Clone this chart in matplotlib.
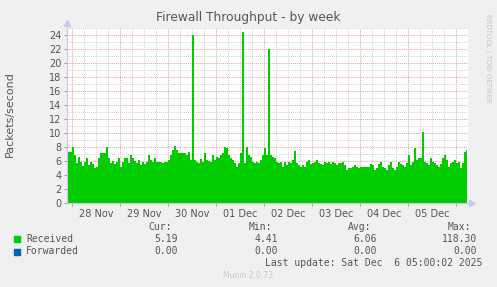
import numpy as np
import matplotlib
matplotlib.use("Agg")
import matplotlib.pyplot as plt

# Chart data
TITLE = "Firewall Throughput - by week"
Y_LABEL = "Packets/second"
DAY_LABELS = ["28 Nov", "29 Nov", "30 Nov", "01 Dec", "02 Dec", "03 Dec", "04 Dec", "05 Dec"]

# hourly samples, first one at 27 Nov 21:30 (hours relative to 28 Nov 00:00)
FIRST_HOUR = -2.5
received = [
    8.0, 7.3, 7.3, 8.0, 6.9, 5.7, 6.6, 5.8, 5.3, 5.9, 6.4, 5.4, 5.8, 5.5, 5.0, 5.2, 6.4, 7.2, 7.2, 7.1,
    8.0, 6.4, 5.7, 6.0, 5.5, 5.8, 6.4, 5.2, 5.9, 6.4, 6.4, 5.7, 6.9, 6.4, 6.0, 5.7, 6.1, 5.4, 5.9, 5.6,
    5.8, 6.9, 6.1, 5.9, 6.4, 5.9, 5.8, 5.9, 5.7, 5.8,
    5.8,
    6.1, 6.9, 7.6, 8.2, 7.6, 7.2, 7.1, 7.1, 7.2, 6.9, 7.3, 6.2, 24.0, 6.1, 5.9, 5.7, 6.3, 5.9, 7.1, 6.1,
    6.0, 5.9, 6.9, 6.1, 6.6, 6.4, 6.9, 7.1, 8.0, 7.8, 6.9, 6.4, 6.1, 5.7, 5.2, 5.7, 7.2, 24.5, 5.7, 8.0,
    6.9, 6.6, 5.9, 5.7, 5.9, 5.7, 6.2, 6.9, 7.8,
    6.8, 22.0, 6.9, 6.6, 6.4, 5.9, 5.7, 5.9, 5.2, 5.8, 5.4, 5.9, 5.7, 6.1, 7.5, 5.7, 5.4, 5.1, 5.4, 5.2,
    5.9, 6.1, 5.5, 5.7, 5.9, 6.1, 5.7, 5.6, 5.4, 5.9, 5.7, 5.9, 5.6, 5.8, 5.7, 5.4, 5.7, 5.7, 5.9, 5.4,
    4.7, 5.0, 5.0, 5.1, 5.4, 5.2, 5.0, 5.1, 5.1, 5.1,
    5.1, 5.2, 5.5, 5.4, 4.7, 5.0, 5.6, 5.8, 5.2, 5.0, 4.7, 5.4, 5.9, 5.0, 4.7, 5.2, 5.9, 5.5, 5.4, 5.2,
    5.7, 6.9, 5.4, 5.9, 7.8, 6.1, 6.4, 6.4, 10.2, 5.9, 5.7, 5.4, 6.4, 5.9, 5.7, 5.4, 5.2, 5.6, 6.4, 6.9,
    6.1, 5.2, 5.7, 5.9, 6.1, 5.7, 5.9, 5.0, 5.7, 7.3, 7.6,
]
forwarded = [0.0] * len(received)

LEGEND_NAMES = ["Received", "Forwarded"]
CUR = ["5.19", "0.00"]
MIN = ["4.41", "0.00"]
AVG = ["6.06", "0.00"]
MAX = ["118.30", "0.00"]
LAST_UPDATE = "Last update: Sat Dec  6 05:00:02 2025"

GREEN = "#00cc00"
BLUE = "#0066b3"
BG = "#f0f0f0"
TXT = "#555555"
AXIS = "#c8c8ee"


def main():
    hours = FIRST_HOUR + np.arange(len(received))

    W, H = 497, 287
    fig = plt.figure(figsize=(W / 100, H / 100), dpi=100, facecolor=BG)
    ax = fig.add_axes([67 / W, 1 - 203 / H, (468 - 67) / W, (203 - 28) / H])
    ax.set_facecolor("white")

    x0, x1 = -2.5, 198
    ax.set_xlim(x0, x1)
    ax.set_ylim(0, 25)

    # grid, drawn by hand to get rrdtool's two colours
    for h in np.arange(-0, x1, 6):
        major = h % 24 == 0
        ax.axvline(h, color="#e3a3a3" if major else "#d2d2d2", lw=0.7,
                   linestyle=(0, (1, 1)), zorder=1)
    for v in range(1, 26):
        major = v % 2 == 0
        ax.axhline(v, color="#e3a3a3" if major else "#d2d2d2", lw=0.7,
                   linestyle=(0, (1, 1)), zorder=1)

    ax.fill_between(hours, received, step="mid", color=GREEN, lw=0, zorder=2)
    ax.step(hours, forwarded, where="mid", color=BLUE, lw=0.6, zorder=2)

    for s in ["top", "right"]:
        ax.spines[s].set_visible(False)
    for s in ["left", "bottom"]:
        ax.spines[s].set_color(AXIS)
        ax.spines[s].set_linewidth(0.8)
        ax.spines[s].set_zorder(3)

    # arrow heads at the axis ends
    ax.plot([0], [1.03], marker="^", ms=4, color=AXIS, transform=ax.transAxes, clip_on=False)
    ax.plot([1.01], [0], marker=">", ms=4, color=AXIS, transform=ax.transAxes, clip_on=False)

    ax.set_yticks(range(0, 25, 2))
    ax.set_yticks(range(1, 25, 2), minor=True)
    ax.tick_params(axis="y", which="major", length=2, width=0.7, color="#999999",
                   labelsize=7, labelcolor=TXT, pad=2)
    ax.tick_params(axis="y", which="minor", length=0)

    midnights = np.arange(0, x1, 24)
    noons = 12 + 24 * np.arange(len(DAY_LABELS))
    ax.set_xticks(midnights, [""] * len(midnights))
    ax.set_xticks(noons, DAY_LABELS, minor=True)
    ax.tick_params(axis="x", which="major", length=2, width=0.7, color="#e08080")
    ax.tick_params(axis="x", which="minor", length=0, labelsize=7, labelcolor=TXT, pad=4)

    fig.text(248 / W, 1 - 18 / H, TITLE, ha="center", va="center", fontsize=8.8, color=TXT)
    fig.text(10 / W, 1 - 114 / H, Y_LABEL, ha="center", va="center", rotation=90,
             fontsize=8, color=TXT)
    fig.text(488 / W, 1 - 14 / H, "RRDTOOL / TOBI OETIKER", ha="center", va="top",
             rotation=270, fontsize=5, color="#c4c4c4")

    # legend block
    mono = dict(family="DejaVu Sans Mono", fontsize=7, color=TXT, va="center")
    cols = [(178, "Cur:", CUR), (278, "Min:", MIN), (377, "Avg:", AVG), (477, "Max:", MAX)]
    for right, head, vals in cols:
        fig.text((right - 6) / W, 1 - 227 / H, head, ha="right", **mono)
        for row, val in enumerate(vals):
            fig.text(right / W, 1 - (239 + 12.5 * row) / H, val, ha="right", **mono)
    for row, (name, col) in enumerate(zip(LEGEND_NAMES, [GREEN, BLUE])):
        y = 239 + 12.5 * row
        fig.patches.append(plt.Rectangle((14 / W, 1 - (y + 3) / H), 6 / W, 6 / H,
                                         color=col, transform=fig.transFigure))
        fig.text(26 / W, 1 - y / H, name, ha="left", **mono)
    fig.text(482 / W, 1 - 263 / H, LAST_UPDATE, ha="right", **mono)
    fig.text(248 / W, 1 - 276 / H, "Munin 2.0.73", ha="center", va="center",
             fontsize=5.5, color="#c8c8c8")

    fig.savefig("out.png", dpi=100, facecolor=BG)


if __name__ == "__main__":
    main()
